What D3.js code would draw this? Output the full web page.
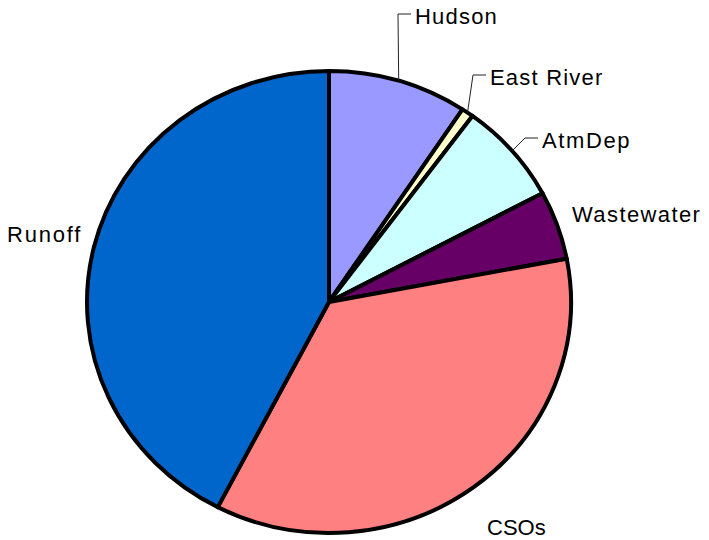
<!DOCTYPE html>
<html>
<head>
<meta charset="utf-8">
<script src="https://cdn.jsdelivr.net/npm/d3@7"></script>
<style>
  html, body { margin: 0; padding: 0; background: #fff; }
  svg { display: block; }
  text { font-family: "Liberation Sans", Arial, sans-serif; fill: #000; }
</style>
</head>
<body>
<svg id="chart" width="709" height="540"></svg>
<script>
// ---- data ----
const categories = ["Hudson", "East River", "AtmDep", "Wastewater", "CSOs", "Runoff"];
const values = [9.3, 0.8, 7.1, 4.8, 35.6, 42.4];
const colors = ["#9999FF", "#FFFFCC", "#CCFFFF", "#660066", "#FF8080", "#0066CC"];

// ---- layout ----
const W = 709, H = 540;
const cx = 329, cy = 302, rx = 242, ry = 231;
// label anchor (text start x, baseline y), leader: elbow point & end x (null = no leader)
const labelLayout = [
  { x: 415, y: 24, elbow: [398, 14], endX: 411, ls: 1.2 },
  { x: 490, y: 85, elbow: [473, 75], endX: 486, ls: 1.2 },
  { x: 542, y: 148, elbow: [525, 138], endX: 538, ls: 1.6 },
  { x: 572, y: 222, elbow: null, ls: 1.4 },
  { x: 487, y: 535, elbow: null, ls: 0 },
  { x: 7, y: 242, elbow: null, ls: 1.8 }
];

const data = categories.map((c, i) => ({ name: c, value: values[i], color: colors[i] }));

const svg = d3.select("#chart");
const pie = d3.pie().value(d => d.value).sort(null).startAngle(0).endAngle(2 * Math.PI);
const arcs = pie(data);
const arc = d3.arc().innerRadius(0).outerRadius(rx);

const g = svg.append("g").attr("transform", `translate(${cx},${cy}) scale(1,${ry / rx})`);
g.selectAll("path.slice")
  .data(arcs)
  .enter().append("path")
  .attr("class", "slice")
  .attr("d", arc)
  .attr("fill", d => d.data.color)
  .attr("stroke", "#000")
  .attr("stroke-width", 4)
  .attr("stroke-linejoin", "round")
  .attr("vector-effect", "non-scaling-stroke");

// leader lines
arcs.forEach((a, i) => {
  const L = labelLayout[i];
  if (!L.elbow) return;
  const mid = (a.startAngle + a.endAngle) / 2;
  const sx = cx + rx * Math.sin(mid);
  const sy = cy - ry * Math.cos(mid);
  svg.append("polyline")
    .attr("points", `${sx},${sy} ${L.elbow[0]},${L.elbow[1]} ${L.endX},${L.elbow[1]}`)
    .attr("fill", "none")
    .attr("stroke", "#222")
    .attr("stroke-width", 1);
});

// labels
svg.selectAll("text.lbl")
  .data(arcs)
  .enter().append("text")
  .attr("class", "lbl")
  .attr("x", (d, i) => labelLayout[i].x)
  .attr("y", (d, i) => labelLayout[i].y)
  .attr("font-size", 22)
  .attr("letter-spacing", (d, i) => labelLayout[i].ls)
  .text(d => d.data.name);
</script>
</body>
</html>
